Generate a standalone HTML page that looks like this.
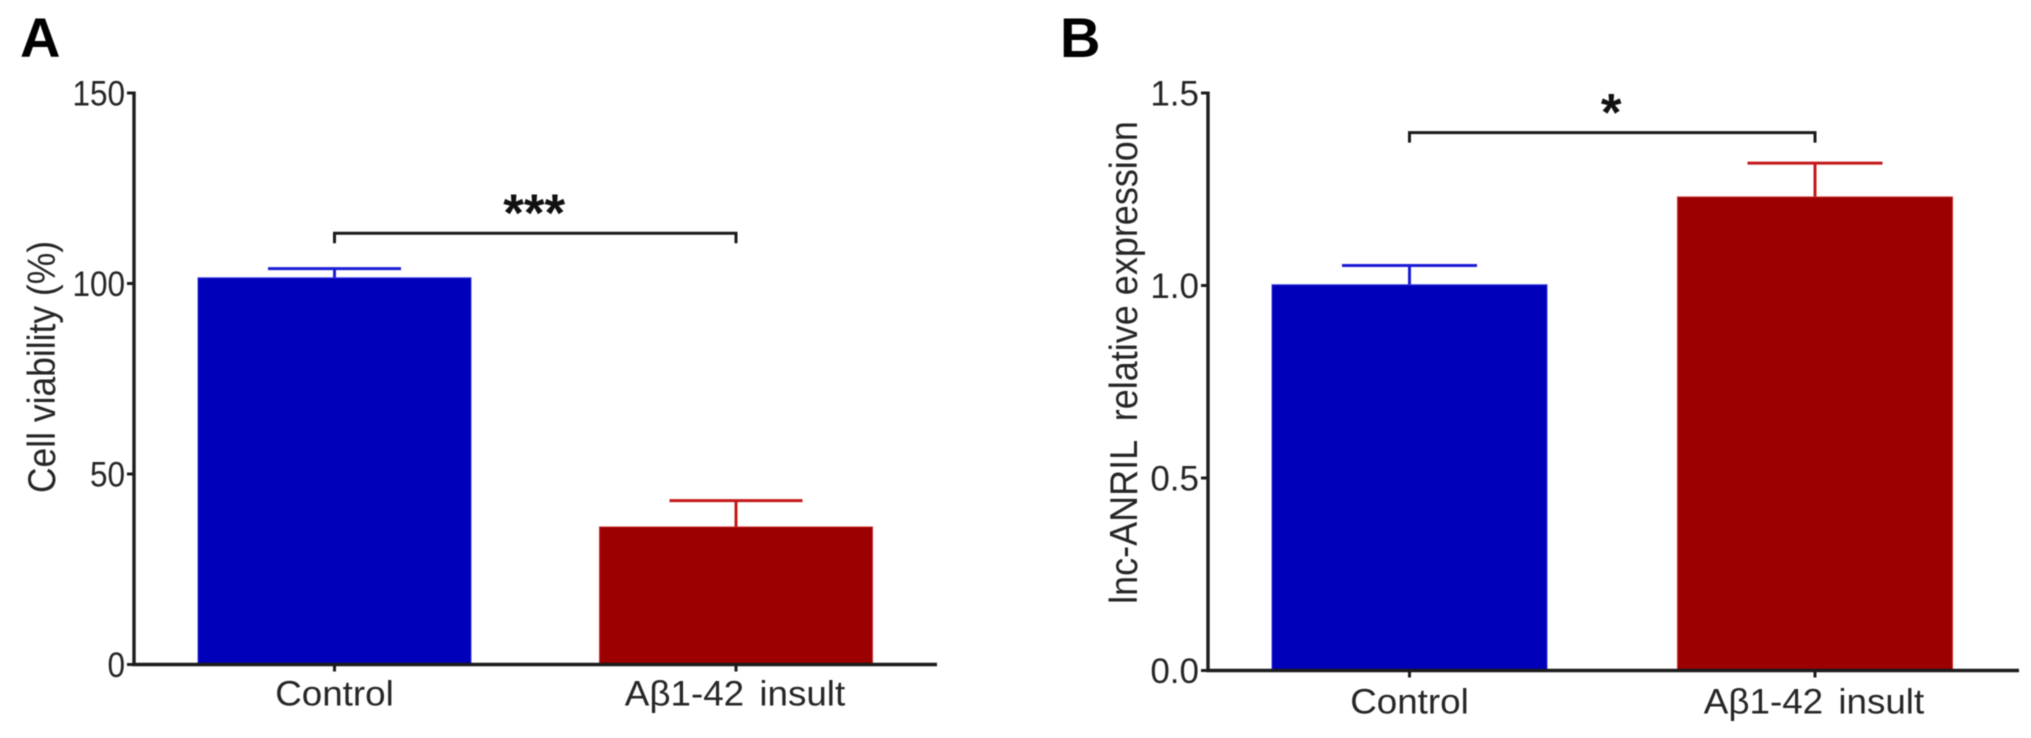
<!DOCTYPE html>
<html lang="en">
<head>
<meta charset="utf-8">
<title>Cell viability and lnc-ANRIL expression</title>
<style>
  html, body { margin: 0; padding: 0; background: #ffffff; }
  body { width: 2031px; height: 738px; overflow: hidden; }
  svg { display: block; filter: blur(0.55px); }
  text { font-family: "Liberation Sans", "DejaVu Sans", sans-serif; fill: #262626; }
  .panel-letter { font-size: 56px; font-weight: 700; fill: #000; }
  .axis-title { font-size: 36px; white-space: pre; }
  .tick-label { font-size: 35px; }
  .cat-label { font-size: 36.8px; word-spacing: 5px; }
  .star { font-size: 53px; font-weight: 700; fill: #111; }
</style>
</head>
<body>
<svg id="figure" xmlns="http://www.w3.org/2000/svg" width="2031" height="738" viewBox="0 0 2031 738">
  <rect width="2031" height="738" fill="#ffffff"/>
  <text class="panel-letter" x="20" y="57">A</text>
  <text class="panel-letter" x="1060" y="57">B</text>
  <text class="axis-title" text-anchor="middle" transform="translate(55,367) rotate(-90) scale(0.985,1.08)">Cell viability (%)</text>
  <text class="axis-title" text-anchor="middle" transform="translate(1137,362.5) rotate(-90) scale(1,1.08)">lnc-ANRIL  relative expression</text>
  <g id="panel-a"></g>
  <g id="panel-b"></g>
</svg>
<script>
// Shared categories
const categories = ["Control", "A\u03b21-42 insult"];

// Panel A: cell viability (%)
const viabilityMeans = [101.5, 36.1];
const viabilityErrors = [2.4, 6.9];
const viabilityTicks = [0, 50, 100, 150];
const viabilityTickLabels = ["0", "50", "100", "150"];
const viabilityBracket = 113.2;
const viabilityStars = "***";

// Panel B: lnc-ANRIL relative expression
const expressionMeans = [1.002, 1.23];
const expressionErrors = [0.05, 0.088];
const expressionTicks = [0, 0.5, 1, 1.5];
const expressionTickLabels = ["0.0", "0.5", "1.0", "1.5"];
const expressionBracket = 1.397;
const expressionStars = "*";

const SVG_NS = "http://www.w3.org/2000/svg";
const BAR_FILLS = ["#0000bb", "#9c0000"];
const BAR_EDGES = ["#3a3ae0", "#c83030"];
const ERR_COLORS = ["#1c1cd4", "#c41a1a"];

function make(tag, attrs, parent, text) {
  const el = document.createElementNS(SVG_NS, tag);
  for (const k in attrs) el.setAttribute(k, attrs[k]);
  if (text !== undefined) el.textContent = text;
  parent.appendChild(el);
  return el;
}

function drawPanel(root, cfg) {
  const y = v => cfg.baseY - (v / cfg.yMax) * (cfg.baseY - cfg.topY);
  const x = i => cfg.firstCenter + i * cfg.step;
  const axisColor = "#1c1c1c";

  cfg.means.forEach((m, i) => {
    const cx = x(i);
    const err = m + cfg.errors[i];

    const stem = make("line", { x1: cx, x2: cx, y1: y(m), y2: y(err), stroke: ERR_COLORS[i], "stroke-width": 3 }, root);
    
    

    const cap = make("line", { x1: cx - cfg.capW / 2, x2: cx + cfg.capW / 2, y1: y(err), y2: y(err), stroke: ERR_COLORS[i], "stroke-width": 3 }, root);
    
    

    const bar = make("rect", { x: cx - cfg.barW / 2, y: y(m), width: cfg.barW, height: cfg.baseY - y(m), fill: BAR_FILLS[i], stroke: BAR_EDGES[i], "stroke-width": 1 }, root);
    
    

    const tick = make("line", { x1: cx, x2: cx, y1: cfg.baseY, y2: cfg.baseY + 7, stroke: axisColor, "stroke-width": 3 }, root);
    
    

    const lab = make("text", { class: "cat-label", "text-anchor": "middle", transform: "translate(" + (cx - i) + "," + (cfg.baseY + cfg.catOffset) + ") scale(1,0.95)" }, root, categories[i]);
    
    
  });

  const xAxis = make("line", { x1: cfg.axisX - 1.75, x2: cfg.axisEnd, y1: cfg.baseY, y2: cfg.baseY, stroke: axisColor, "stroke-width": 3.4 }, root);
  
  

  const yAxis = make("line", { x1: cfg.axisX, x2: cfg.axisX, y1: cfg.topY - 1.5, y2: cfg.baseY + 1.5, stroke: axisColor, "stroke-width": 3.4 }, root);
  
  

  cfg.ticks.forEach((t, i) => {
    const tick = make("line", { x1: cfg.axisX - 7, x2: cfg.axisX, y1: y(t), y2: y(t), stroke: axisColor, "stroke-width": 3 }, root);
    
    

    const lab = make("text", { class: "tick-label", "text-anchor": "end", transform: "translate(" + (cfg.axisX - 9) + "," + (y(t) + 12.5) + ") scale(" + cfg.tickScaleX + ",1)" }, root, cfg.tickLabels[i]);
    
    
  });

  const by = y(cfg.bracket);
  const path = "M" + x(0) + " " + (by + 10) + "V" + by + "H" + x(1) + "V" + (by + 10);
  const bracket = make("path", { d: path, fill: "none", stroke: "#1a1a1a", "stroke-width": 3 }, root);
  
  

  const star = make("text", { class: "star", "text-anchor": "middle", x: (x(0) + x(1)) / 2 - 1, y: by - 2 }, root, cfg.stars);
  
  
}

drawPanel(document.getElementById("panel-a"), {
  means: viabilityMeans, errors: viabilityErrors, ticks: viabilityTicks, tickLabels: viabilityTickLabels,
  bracket: viabilityBracket, stars: viabilityStars, yMax: 150,
  baseY: 664.5, topY: 93, axisX: 134, axisEnd: 937, tickScaleX: 0.9,
  firstCenter: 334.5, step: 401.5, barW: 273, capW: 133, catOffset: 41
});
drawPanel(document.getElementById("panel-b"), {
  means: expressionMeans, errors: expressionErrors, ticks: expressionTicks, tickLabels: expressionTickLabels,
  bracket: expressionBracket, stars: expressionStars, yMax: 1.5,
  baseY: 670.5, topY: 93, axisX: 1208, axisEnd: 2019, tickScaleX: 1,
  firstCenter: 1409.5, step: 405.5, barW: 275, capW: 135, catOffset: 43
});
</script>
</body>
</html>
